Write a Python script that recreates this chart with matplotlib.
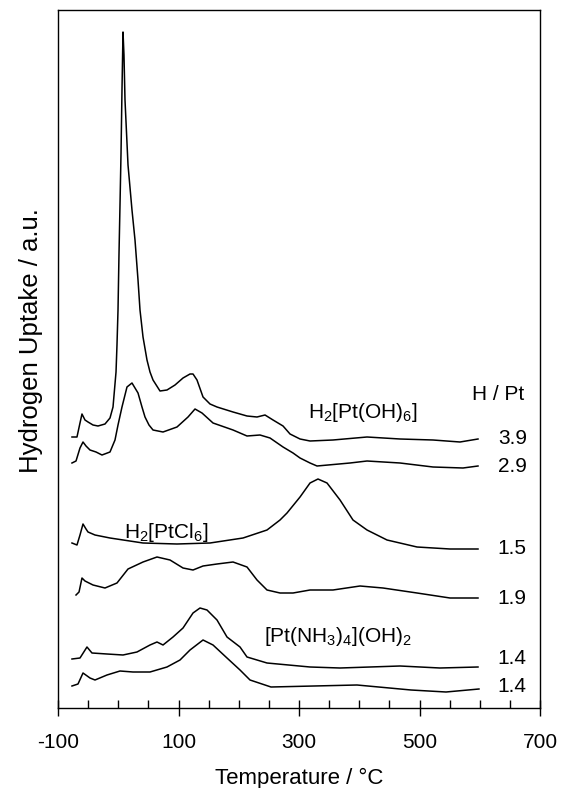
import matplotlib
matplotlib.use("Agg")
import matplotlib.pyplot as plt
from matplotlib.ticker import MultipleLocator

plt.rcParams['font.family'] = ['Liberation Sans', 'DejaVu Sans']
plt.rcParams['mathtext.fontset'] = 'custom'
plt.rcParams['mathtext.rm'] = 'Liberation Sans'
plt.rcParams['mathtext.it'] = 'Liberation Sans:italic'
plt.rcParams['mathtext.bf'] = 'Liberation Sans:bold'
plt.rcParams['axes.unicode_minus'] = False

# ---- data (temperature in deg C, signal in a.u. incl. vertical stacking) ----
t_oh6_39 = [-76.8, -68.5, -63.5, -60.2, -55.2, -50.2, -41.9, -33.6, -22.0, -13.7, -8.7,
            -3.7, -2.1, -0.4, 1.2, 2.9, 4.6, 6.2, 7.9, 9.5, 11.2, 16.2, 22.8, 27.8, 32.8,
            36.1, 41.1, 47.7, 52.7, 57.7, 69.3, 80.9, 94.2, 107.5, 119.1, 124.1, 130.7,
            140.7, 152.3, 163.9, 190.5, 213.7, 230.3, 243.6, 256.9, 273.5, 285.1, 301.7,
            318.3, 356.4, 412.9, 467.7, 522.4, 567.2, 597.1]
s_oh6_39 = [271, 271, 285, 294, 288, 286, 283, 282, 284, 290, 301,
            336, 363, 398, 453, 503, 555, 618, 676, 653, 608, 543, 498, 468, 428,
            398, 371, 348, 336, 328, 317, 318, 323, 330, 334, 334, 328,
            311, 304, 301, 296, 292, 291, 293, 288, 282, 274, 269,
            267, 268, 271, 269, 268, 266, 269]

t_oh6_29 = [-76.8, -70.1, -63.5, -58.5, -53.5, -46.9, -36.9, -27.0, -13.7, -5.4, -0.4,
            6.2, 14.5, 22.8, 32.8, 39.4, 44.4, 51.0, 57.7, 74.3, 97.5, 115.8, 127.4,
            139.0, 157.3, 190.5, 213.7, 235.3, 251.9, 273.5, 290.1, 301.7, 318.3, 329.9,
            384.7, 412.9, 467.7, 522.4, 572.2, 597.1]
s_oh6_29 = [245, 247, 260, 266, 262, 258, 256, 253, 256, 268, 283,
            301, 321, 325, 315, 301, 291, 283, 278, 276, 281, 291, 299,
            295, 285, 278, 272, 273, 270, 261, 255, 250, 245, 242,
            245, 247, 245, 241, 240, 242]

t_cl6_15 = [-76.8, -68.5, -63.5, -58.5, -53.5, -50.2, -38.6, -13.7, 41.1, 97.5, 152.3,
            207.1, 246.9, 268.5, 280.1, 301.7, 318.3, 331.5, 346.5, 368.1, 389.6, 412.9,
            446.1, 495.9, 550.6, 597.1]
s_cl6_15 = [165, 163, 173, 184, 179, 176, 173, 170, 165, 164, 165,
            170, 178, 188, 195, 211, 225, 229, 225, 208, 188, 178,
            168, 161, 159, 159]

t_cl6_19 = [-70.1, -65.1, -60.2, -55.2, -41.9, -22.0, -2.1, 16.2, 41.1, 64.3, 85.9,
            107.5, 124.1, 140.7, 163.9, 190.5, 213.7, 230.3, 246.9, 268.5, 290.1, 318.3,
            356.4, 401.3, 439.4, 495.9, 550.6, 597.1]
s_cl6_19 = [113, 116, 130, 127, 123, 120, 125, 139, 146, 151, 148,
            140, 138, 142, 144, 146, 141, 128, 118, 115, 115, 118,
            118, 122, 120, 115, 110, 110]

t_nh3_14a = [-76.8, -63.5, -51.9, -43.6, -18.7, 7.9, 31.1, 52.7, 64.3, 74.3, 90.9,
             107.5, 124.1, 135.7, 147.3, 163.9, 180.5, 202.1, 213.7, 246.9, 318.3,
             368.1, 467.7, 534.0, 597.1]
s_nh3_14a = [49, 50, 61, 55, 54, 53, 56, 63, 66, 63, 71,
             80, 95, 100, 98, 88, 71, 61, 51, 45, 41,
             40, 42, 40, 41]

t_nh3_14b = [-76.8, -66.8, -58.5, -46.9, -38.6, -18.7, 2.9, 24.5, 52.7, 80.9, 102.5,
             119.1, 140.7, 157.3, 180.5, 202.1, 218.7, 253.5, 396.3, 485.9, 544.0, 598.7]
s_nh3_14b = [22, 24, 35, 30, 28, 33, 37, 36, 36, 41, 48,
             58, 68, 63, 50, 38, 28, 21, 23, 18, 16, 19]

hpt_labels = ["3.9", "2.9", "1.5", "1.9", "1.4", "1.4"]
x_ticks = [-100, 100, 300, 500, 700]

# ---- figure ----
fig = plt.figure(figsize=(5.61, 7.88), dpi=100)
ax = fig.add_axes([58 / 561, 80 / 788, 482 / 561, 698 / 788])

series = [(t_oh6_39, s_oh6_39), (t_oh6_29, s_oh6_29), (t_cl6_15, s_cl6_15),
          (t_cl6_19, s_cl6_19), (t_nh3_14a, s_nh3_14a), (t_nh3_14b, s_nh3_14b)]
for t, s in series:
    ax.plot(t, s, color='black', lw=1.1)

ax.set_xlim(-100, 700)
ax.set_ylim(0, 698)
ax.set_xticks(x_ticks)
ax.xaxis.set_minor_locator(MultipleLocator(50))
ax.set_yticks([])
ax.tick_params(axis='x', which='major', direction='inout', length=12, width=1.0,
               labelsize=15, pad=12)
ax.tick_params(axis='x', which='minor', direction='in', length=6, width=1.0)
for sp in ax.spines.values():
    sp.set_linewidth(1.0)

ax.set_xlabel("Temperature / °C", fontsize=16)
ax.xaxis.set_label_coords(0.5, -0.086)
ax.set_ylabel("Hydrogen Uptake / a.u.", fontsize=18.5)
ax.yaxis.set_label_coords(-0.031, 0.526)

# annotations
fs = 15
ax.text(630, 313, "H / Pt", fontsize=fs, ha='center', va='center')
label_y = [269, 241, 159, 110, 50, 22]
for lab, yy in zip(hpt_labels, label_y):
    ax.text(654, yy, lab, fontsize=fs, ha='center', va='center')
ax.text(406, 295, r"H$_2$[Pt(OH)$_6$]", fontsize=fs, ha='center', va='center')
ax.text(79, 176, r"H$_2$[PtCl$_6$]", fontsize=fs, ha='center', va='center')
ax.text(365, 71, r"[Pt(NH$_3$)$_4$](OH)$_2$", fontsize=fs, ha='center', va='center')

fig.savefig("out.png", dpi=100)
